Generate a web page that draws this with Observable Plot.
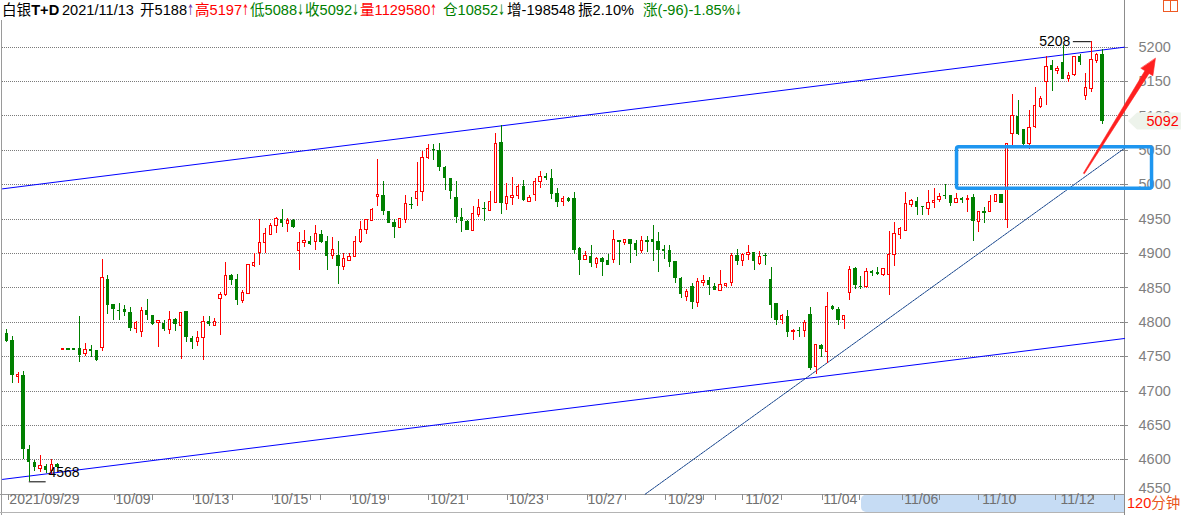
<!DOCTYPE html>
<html>
<head>
<meta charset="utf-8">
<script src="https://cdn.jsdelivr.net/npm/d3@7"></script>
<script src="https://cdn.jsdelivr.net/npm/@observablehq/plot@0.6"></script>
<style>
html,body{margin:0;padding:0;background:#fff;}
#wrap{position:relative;width:1181px;height:515px;overflow:hidden;background:#fff;}
#chart{position:absolute;left:0;top:0;}
.seg{position:absolute;top:1px;font-family:"Liberation Sans","Noto Sans CJK SC",sans-serif;font-size:14.6px;line-height:18px;white-space:nowrap;}
.arr{display:inline-block;width:7px;font-family:"DejaVu Sans",sans-serif;transform:scaleX(0.55);transform-origin:0 50%;}
#period{position:absolute;left:1127px;top:494px;font-family:"Liberation Sans","Noto Sans CJK SC",sans-serif;font-size:14.5px;line-height:18px;white-space:nowrap;}
</style>
</head>
<body>
<div id="wrap"><div id="chart"></div><div id="hdr"></div><div id="period"></div></div>
<script>
// ---- data (120-minute candles, 白银T+D) ----
const open = [4783,4773,4721,4722,4614,4596,4588,4589,4585,4592,
4760,4761,4761,4761,4754,4759,4758,4763,4862,4825,
4817,4818,4814,4791,4787,4816,4809,4800,4798,4790,
4804,4795,4815,4776,4772,4778,4800,4796,4835,4840,
4868,4862,4832,4842,4883,4901,4916,4928,4940,4949,
4944,4947,4904,4916,4917,4917,4927,4916,4897,4896,
4881,4890,4896,4917,4935,4948,4983,4984,4961,4944,
4938,4950,4971,4980,4990,5039,5051,5049,5025,5008,
4981,4952,4946,4934,4957,4965,4963,4974,5060,4973,
4982,4985,4996,4976,4986,5004,5011,5009,4987,4975,
4979,4979,4906,4892,4895,4886,4892,4889,4891,4918,
4916,4919,4914,4905,4918,4919,4917,4905,4903,4887,
4863,4838,4852,4829,4858,4860,4852,4846,4854,4858,
4896,4890,4898,4901,4886,4897,4862,4826,4804,4807,
4786,4788,4788,4810,4736,4766,4758,4822,4818,4804,
4844,4877,4852,4852,4873,4871,4870,4870,4898,4927,
4934,4971,4975,4968,4965,4974,4979,4984,4984,4974,
4979,4978,4980,4947,4960,4961,4975,4985,4949,5074,
5099,5079,5060,5084,5114,5150,5172,5166,5177,5155,
5160,5186,5130,5140,5181,5188];
const high = [4789,4780,4727,4728,4621,4599,4606,4593,4600,4594,
4760,4761,4761,4809,4769,4766,4759,4892,4868,4825,
4827,4825,4821,4801,4821,4833,4809,4802,4803,4816,
4805,4813,4816,4780,4787,4809,4808,4806,4844,4887,
4869,4869,4846,4884,4900,4950,4936,4943,4952,4964,
4951,4949,4931,4934,4924,4941,4934,4925,4923,4917,
4900,4900,4924,4946,4950,4966,5036,5004,4961,4949,
4950,4984,4981,5033,5049,5058,5058,5060,5027,5009,
5004,4966,4948,4968,4979,4974,4990,5074,5086,5002,
5010,5000,5006,4984,5009,5019,5016,5022,4994,4983,
4981,4988,4908,4903,4912,4894,4894,4898,4933,4919,
4919,4919,4919,4924,4924,4941,4930,4911,4911,4887,
4865,4848,4856,4863,4868,4865,4856,4876,4856,4900,
4906,4900,4912,4902,4903,4900,4880,4827,4812,4817,
4790,4793,4803,4821,4768,4768,4843,4824,4822,4808,
4881,4880,4866,4878,4875,4880,4878,4932,4945,4938,
4989,4979,4981,4968,4992,4995,4987,5000,4985,4987,
4981,4985,4986,4961,4967,4985,4986,4985,5060,5131,
5122,5081,5108,5142,5129,5186,5180,5172,5203,5163,
5187,5190,5162,5208,5191,5197];
const low = [4771,4711,4711,4600,4568,4583,4581,4580,4579,4587,
4760,4760,4760,4742,4750,4749,4743,4757,4812,4803,
4803,4809,4787,4784,4778,4802,4796,4763,4787,4782,
4787,4746,4770,4761,4765,4745,4794,4795,4781,4838,
4854,4825,4827,4841,4880,4883,4900,4927,4929,4938,
4931,4936,4876,4908,4911,4905,4915,4876,4892,4855,
4876,4888,4894,4914,4928,4946,4968,4955,4944,4922,
4936,4944,4964,4969,4975,5037,5035,5019,4991,4978,
4944,4931,4934,4934,4953,4947,4963,4972,4957,4962,
4970,4979,4975,4975,4976,4995,5006,4979,4967,4969,
4974,4898,4868,4890,4880,4878,4867,4883,4885,4882,
4912,4886,4895,4900,4902,4888,4873,4892,4879,4857,
4834,4830,4818,4822,4852,4839,4847,4845,4850,4852,
4883,4881,4890,4876,4882,4882,4806,4795,4797,4778,
4774,4778,4778,4730,4724,4749,4740,4817,4796,4789,
4832,4847,4847,4849,4866,4868,4867,4839,4881,4921,
4932,4967,4955,4955,4955,4966,4974,4978,4969,4972,
4973,4960,4918,4931,4944,4960,4974,4974,4936,5057,
5072,5057,5051,5082,5111,5115,5135,5160,5153,5149,
5158,5174,5122,5134,5176,5088];
const close = [4773,4723,4723,4615,4597,4589,4590,4585,4592,4590,
4760,4760,4760,4752,4759,4758,4745,4863,4825,4819,
4816,4815,4791,4798,4815,4810,4798,4801,4790,4803,
4798,4813,4778,4772,4776,4799,4797,4800,4839,4866,
4862,4832,4842,4883,4886,4915,4927,4939,4950,4944,
4946,4938,4915,4917,4914,4927,4917,4897,4904,4882,
4892,4894,4916,4933,4948,4962,4985,4962,4944,4938,
4949,4971,4970,4988,5038,5051,5050,5026,5010,4991,
4953,4947,4934,4957,4965,4964,4974,5058,4973,4981,
4983,4996,4978,4980,5003,5010,5010,4987,4975,4979,
4976,4905,4890,4896,4886,4891,4888,4883,4919,4916,
4919,4914,4905,4918,4917,4917,4905,4904,4888,4864,
4841,4843,4829,4858,4859,4854,4847,4853,4855,4896,
4889,4897,4900,4889,4894,4896,4825,4803,4808,4786,
4787,4787,4798,4733,4766,4761,4821,4820,4804,4808,
4876,4854,4851,4872,4872,4870,4877,4897,4927,4935,
4971,4975,4968,4967,4973,4976,4982,4983,4974,4978,
4978,4979,4947,4960,4959,4974,4985,4974,5059,5099,
5074,5059,5082,5114,5124,5171,5167,5168,5154,5158,
5185,5178,5140,5180,5188,5092];

const priceTicks = [4600,4650,4700,4750,4800,4850,4900,4950,5000,5050,5100,5150,5200];
const bottomTick = 4550;
const dateLabels = ["2021/09/29","10/09","10/13","10/15","10/19","10/21","10/23","10/27","10/29","11/02","11/04","11/06","11/10","11/12"];
const dateLabelIdx = [0.45,19.35,33.35,47.4,61.3,75.35,89.3,103.35,117.6,131.4,145.3,159.7,173.6,187.5];
const dayTickIdx = [0.25,19.1,25.9,33.2,40.2,47.3,54.0,55.9,61.2,68.0,75.1,82.0,89.1,96.2,103.3,110.1,117.2,123.9,126.1,131.0,137.9,145.1,151.7,159.4,166.0,172.9,179.5,186.7,193.3,197.2];
const highlightFromIdx = 152.1;

// drawn annotations (candle index, price)
const channelIdx = [-0.77, 198.9];
const upperChannel = [4994, 5200];
const lowerChannel = [4571.5, 4776.4];
const supportIdx = [113.6, 198.9];
const supportPrice = [4550, 5053];
const boxIdx = [169.1, 203.8];
const boxPrice = [4994, 5054.6];
const arrowIdx = [204.4, 203.95, 203.27, 191.76, 191.58, 202.53, 201.85];
const arrowPrice = [5183.6, 5158.4, 5161.9, 5015.9, 5016.8, 5165.7, 5169.2];

// header values
const quoteName = "白银", quoteCode = "T+D";
const quoteDate = "2021/11/13";
const volume = 1129580, openInterest = 10852, oiChange = -198548;

const red = "#ff0000", green = "#008000";
const N = close.length;
const candles = close.map((c, i) => ({i, o: open[i], h: high[i], l: low[i], c}));
const up = candles.filter(d => d.c >= d.o);
const down = candles.filter(d => d.c < d.o);
const hiIdx = d3.maxIndex(high), loIdx = d3.minIndex(low);
const half = 0.3;
const pts = (xs, ys) => xs.map((i, k) => ({i, p: ys[k]}));
const str = d => String(d);

function chrome(index, scales, values, dims) {
  const {width, height, marginTop, marginRight, marginBottom, marginLeft} = dims;
  const xr = width - marginRight, yb = height - marginBottom;
  const g = d3.create("svg:g");
  const hx = scales.x(highlightFromIdx);
  const y0 = yb + 1, y1 = height - 3, r = 5;
  g.append("path").attr("fill", "#c6dcf4")
    .attr("d", `M${hx + r},${y0}H${xr}V${y1}H${hx + r}A${r},${r} 0 0 1 ${hx},${y1 - r}V${y0 + r}A${r},${r} 0 0 1 ${hx + r},${y0}Z`);
  const line = (a, b, c, d, s) => g.append("line").attr("x1", a).attr("y1", b).attr("x2", c).attr("y2", d)
    .attr("stroke", s).attr("stroke-width", 1).attr("shape-rendering", "crispEdges");
  line(marginLeft - 0.5, marginTop, marginLeft - 0.5, height, "#9a9a9a");
  line(xr + 0.5, 0, xr + 0.5, height, "#8c8c8c");
  line(0, Math.round(yb) + 0.5, xr, Math.round(yb) + 0.5, "#9a9a9a");
  line(0, height - 2.5, xr, height - 2.5, "#b4b4b4");
  for (const t of dayTickIdx) { const x = Math.round(scales.x(t)) + 0.5; line(x, yb, x, yb + 6, "#8c8c8c"); }
  for (const p of priceTicks) { const y = Math.round(scales.y(p)) + 0.5; line(xr - 3, y, xr + 4, y, "#8c8c8c"); }
  g.append("rect").attr("x", width - 17.5).attr("y", 0.5).attr("width", 14).attr("height", 11)
    .attr("fill", "none").attr("stroke", "#ee5a24");
  line(width - 10.5, 0.5, width - 10.5, 11.5, "#ee5a24");
  return g.node();
}

function priceTag(index, scales, values, dims) {
  const y = scales.y(close[N - 1]);
  const x0 = dims.width - dims.marginRight + 4;
  return d3.create("svg:polygon")
    .attr("points", [[x0, y], [x0 + 9, y - 8.5], [dims.width, y - 8.5], [dims.width, y + 8.5], [x0 + 9, y + 8.5]].join(" "))
    .attr("fill", "#edf3eb").node();
}

const chart = Plot.plot({
  width: 1181,
  height: 515,
  marginTop: 20,
  marginRight: 57,
  marginBottom: 21.3,
  marginLeft: 2,
  x: {type: "linear", domain: [-0.77, 198.9], axis: null},
  y: {domain: [4550, 5238.8], axis: null},
  style: {fontFamily: "Liberation Sans, Noto Sans CJK SC, sans-serif", background: "white", overflow: "visible"},
  marks: [
    chrome,
    Plot.ruleY(priceTicks, {stroke: "#7a7a7a", strokeDasharray: "1,1", shapeRendering: "crispEdges"}),
    Plot.text(priceTicks, {y: d => d, text: str, frameAnchor: "right", dx: 14, textAnchor: "start", fill: "#7f7f7f", fontSize: 14.5}),
    Plot.text([bottomTick], {y: d => d, text: str, frameAnchor: "right", dx: 14, dy: -6, textAnchor: "start", fill: "#7f7f7f", fontSize: 14.5}),
    Plot.text(dateLabels, {x: (d, i) => dateLabelIdx[i], frameAnchor: "bottom", dy: 10, textAnchor: "start", fill: "#707070", fontSize: 14}),
    priceTag,
    Plot.text([close[N - 1]], {y: d => d, text: str, frameAnchor: "right", dx: 22, textAnchor: "start", fill: red, fontSize: 14.5}),
    Plot.line(pts(channelIdx, upperChannel), {x: "i", y: "p", stroke: "#0000ff", strokeWidth: 1}),
    Plot.line(pts(channelIdx, lowerChannel), {x: "i", y: "p", stroke: "#0000ff", strokeWidth: 1}),
    Plot.line(pts(supportIdx, supportPrice), {x: "i", y: "p", stroke: "#10408a", strokeWidth: 1, strokeDasharray: "2,1"}),
    Plot.ruleX(down, {x: "i", y1: "l", y2: "h", stroke: green, shapeRendering: "crispEdges"}),
    Plot.ruleX(up, {x: "i", y1: "l", y2: "h", stroke: red, shapeRendering: "crispEdges"}),
    Plot.rect(down, {x1: d => d.i - half, x2: d => d.i + half, y1: "o", y2: "c", fill: green,
      insetTop: -0.5, insetBottom: -0.5, shapeRendering: "crispEdges"}),
    Plot.rect(up, {x1: d => d.i - half, x2: d => d.i + half, y1: "o", y2: "c", fill: "white", stroke: red,
      insetLeft: 0.5, insetRight: 0.5, insetTop: -0.5, insetBottom: -0.5, shapeRendering: "crispEdges"}),
    Plot.ruleY([high[hiIdx]], {x1: hiIdx - 3.2, x2: hiIdx, stroke: "#000"}),
    Plot.text([high[hiIdx]], {x: hiIdx - 3.2, y: d => d, text: str, dx: -3, textAnchor: "end", fill: "#000", fontSize: 14}),
    Plot.ruleY([low[loIdx]], {x1: loIdx, x2: loIdx + 3, stroke: "#000"}),
    Plot.text([low[loIdx]], {x: loIdx + 3.4, y: d => d, text: str, dy: -9, textAnchor: "start", fill: "#000", fontSize: 14}),
    Plot.rect([0], {x1: boxIdx[0], x2: boxIdx[1], y1: boxPrice[0], y2: boxPrice[1], fill: "none",
      stroke: "#1e96f0", strokeWidth: 3.5, rx: 2}),
    Plot.line(pts(arrowIdx, arrowPrice), {x: "i", y: "p", fill: "#ff2020", stroke: "#ff2020", strokeWidth: 0.6, curve: "linear-closed"})
  ]
});
document.getElementById("chart").appendChild(chart);

// header
const o = open[N - 1], h = high[N - 1], l = low[N - 1], c = close[N - 1], pc = close[N - 2];
const diff = c - pc;
const amp = ((h - l) / pc * 100).toFixed(2);
const pct = (diff / pc * 100).toFixed(2);
// [text, colour, arrow, arrowColour, bold]
const segs = [
  [[quoteName, "#000"], [quoteCode, "#000", null, null, true]],
  [[quoteDate, "#000"]],
  [["开" + o, "#000", "↑", "#7030a0"]],
  [["高" + h, red, "↑", red]],
  [["低" + l, green, "↓", green]],
  [["收" + c, green, "↓", green]],
  [["量" + volume, red, "↑", red]],
  [["仓" + openInterest, green, "↓", green]],
  [["增" + oiChange, "#000"]],
  [["振" + amp + "%", "#000"]],
  [["涨(" + diff + ")" + pct + "%", green, "↓", green]]
];
const segLeft = [2, 62, 140, 195, 250, 305, 360, 443, 507, 578, 643];
const hdr = document.getElementById("hdr");
segs.forEach((s, k) => {
  const div = document.createElement("div");
  div.className = "seg";
  div.style.left = segLeft[k] + "px";
  s.forEach(([t, col, arr, acol, bold]) => {
    const sp = document.createElement("span");
    sp.textContent = t; sp.style.color = col;
    if (bold) sp.style.fontWeight = "bold";
    div.appendChild(sp);
    if (arr) {
      const a = document.createElement("span");
      a.className = "arr"; a.textContent = arr; a.style.color = acol;
      div.appendChild(a);
    }
  });
  hdr.appendChild(div);
});
const period = document.getElementById("period");
[["120", "#ff1a00"], ["分钟", "#e8561c"]].forEach(([t, col]) => {
  const sp = document.createElement("span"); sp.textContent = t; sp.style.color = col; period.appendChild(sp);
});
</script>
</body>
</html>
